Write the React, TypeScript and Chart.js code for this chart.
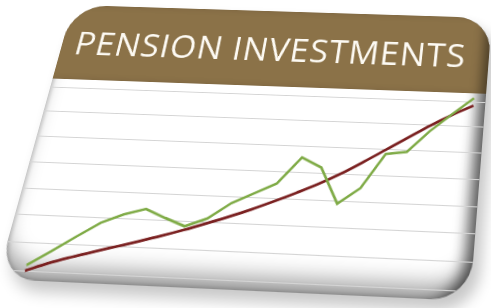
import React, { useEffect, useRef } from "react";
import { Chart, registerables } from "chart.js";

Chart.register(...registerables);

// ---- data ----
const categories = [
  "1990", "1991", "1992", "1993", "1994", "1995", "1996", "1997", "1998", "1999", "2000",
  "2001", "2002", "2003", "2004", "2005", "2006", "2007", "2008", "2009", "2010",
];
const investmentValues = [
  0.2, 0.73, 1.29, 1.83, 2.17, 2.4, 2.1, 1.83, 2.15, 2.75, 3.15,
  3.55, 4.57, 4.22, 2.89, 3.5, 4.83, 4.94, 5.78, 6.48, 7.15,
];
const trendValues = [
  0, 0.3, 0.55, 0.78, 1.0, 1.22, 1.45, 1.7, 1.97, 2.25, 2.55,
  2.88, 3.23, 3.6, 4.02, 4.5, 5.0, 5.5, 6.0, 6.45, 6.85,
];
const gridTicks = [0, 1, 2, 3, 4, 5, 6, 7];
const title = "PENSION INVESTMENTS";

// ---- card geometry (styling) ----
const W = 470;
const H = 290;
const HEADER_H = 0.293 * H;
const QUAD = [73, 5, 492, 18, 470, 301, -3, 279]; // TL, TR, BR, BL on screen

function matrixFor(w: number, h: number, p: number[]) {
  const [x0, y0, x1, y1, x2, y2, x3, y3] = p;
  const dx1 = x1 - x2, dx2 = x3 - x2, dx3 = x0 - x1 + x2 - x3;
  const dy1 = y1 - y2, dy2 = y3 - y2, dy3 = y0 - y1 + y2 - y3;
  const det = dx1 * dy2 - dx2 * dy1;
  const g = (dx3 * dy2 - dx2 * dy3) / det;
  const hh = (dx1 * dy3 - dx3 * dy1) / det;
  const a = x1 - x0 + g * x1;
  const b = x3 - x0 + hh * x3;
  const c = x0;
  const d = y1 - y0 + g * y1;
  const e = y3 - y0 + hh * y3;
  const f = y0;
  const m = [
    a / w, d / w, 0, g / w,
    b / h, e / h, 0, hh / h,
    0, 0, 1, 0,
    c, f, 0, 1,
  ];
  return `matrix3d(${m.join(",")})`;
}

export default function App() {
  const canvasRef = useRef<HTMLCanvasElement | null>(null);

  useEffect(() => {
    if (!canvasRef.current) return;
    const xMin = -1.2;
    const xMax = categories.length - 1 + 0.57;
    const chart = new Chart(canvasRef.current, {
      type: "line",
      data: {
        datasets: [
          {
            data: investmentValues.map((v, i) => ({ x: i, y: v })),
            borderColor: "#7fab46",
            borderWidth: 2.6,
            pointRadius: 0,
            tension: 0,
            clip: false as any,
          },
          {
            data: trendValues.map((v, i) => ({ x: i, y: v })),
            borderColor: "#7a2020",
            borderWidth: 2.8,
            pointRadius: 0,
            cubicInterpolationMode: "monotone",
            clip: false as any,
          },
        ],
      },
      options: {
        animation: false,
        responsive: false,
        maintainAspectRatio: false,
        devicePixelRatio: 1,
        layout: { padding: { top: 0.325 * H, left: 0, right: 0, bottom: 0 } },
        plugins: { legend: { display: false }, tooltip: { enabled: false } },
        scales: {
          x: { type: "linear", min: xMin, max: xMax, display: false },
          y: {
            min: -0.33,
            max: 7,
            display: true,
            ticks: { display: false },
            grid: { color: "#d4d4d4", lineWidth: 1, drawTicks: false },
            border: { display: false },
            afterBuildTicks: (axis: any) => {
              axis.ticks = gridTicks.map((v) => ({ value: v }));
            },
          },
        },
      },
    });
    return () => chart.destroy();
  }, []);

  return (
    <div style={{ position: "absolute", left: 0, top: 0, width: 491, height: 308, overflow: "hidden", background: "#fff" }}>
      <div
        style={{
          position: "absolute",
          left: 0,
          top: 0,
          width: W,
          height: H,
          transformOrigin: "0 0",
          transform: matrixFor(W, H, QUAD),
          borderRadius: 38,
          overflow: "hidden",
          background: "#ffffff",
          boxShadow:
            "inset -14px 0 14px -6px rgba(0,0,0,0.6), inset 0 -20px 22px -8px rgba(0,0,0,0.4), inset 3px 0 4px -1px rgba(0,0,0,0.18), 8px 10px 14px rgba(0,0,0,0.22)",
        }}
      >
        <div
          style={{
            position: "absolute",
            left: 0,
            top: 0,
            width: W,
            height: HEADER_H,
            background: "#8b7248",
            boxShadow: "inset -12px 0 12px -6px rgba(0,0,0,0.45)",
            display: "flex",
            alignItems: "center",
            justifyContent: "center",
            paddingTop: 0,
            paddingRight: 10,
            boxSizing: "border-box",
            color: "#fdfaf3",
            fontFamily: "'Open Sans', sans-serif",
            fontSize: 37,
            letterSpacing: 1,
            whiteSpace: "nowrap",
          }}
        >
          {title}
        </div>
        <canvas
          ref={canvasRef}
          width={W}
          height={H}
          style={{ position: "absolute", left: 0, top: 0, width: W, height: H }}
        />
      </div>
    </div>
  );
}
